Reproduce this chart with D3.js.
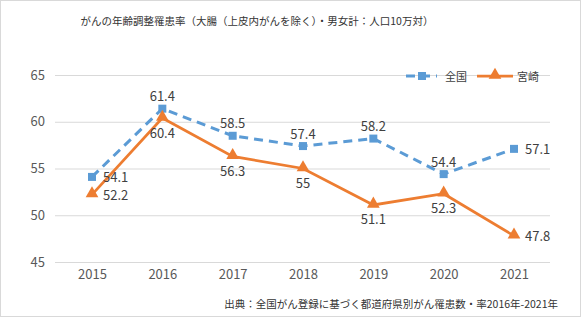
<!DOCTYPE html>
<html><head><meta charset="utf-8">
<script src="https://cdn.jsdelivr.net/npm/d3@7"></script>
<style>
html,body{margin:0;padding:0;background:#fff;}
text{font-family:"Noto Sans CJK JP","Noto Sans",sans-serif;}
</style></head>
<body><svg id="c" width="585" height="321"></svg>
<script>
const years = ["2015","2016","2017","2018","2019","2020","2021"];
const national = [54.1, 61.4, 58.5, 57.4, 58.2, 54.4, 57.1];
const miyazaki = [52.2, 60.4, 56.3, 55, 51.1, 52.3, 47.8];
const yTicks = [45, 50, 55, 60, 65];
// label placement per point: "r" right, "t" above, "b" below
const nationalPos = ["r","t","t","t","t","t","r"];
const miyazakiPos = ["r","b","b","b","b","b","r"];

const svg = d3.select("#c");
const blue = "#5B9BD5", orange = "#ED7D31";

svg.append("rect").attr("x",0.5).attr("y",0.5).attr("width",580).attr("height",316)
  .attr("fill","#fff").attr("stroke","#d9d9d9");

const x = d3.scalePoint().domain(years).range([92, 514]);
const y = d3.scaleLinear().domain([45, 65]).range([262, 75]);

// horizontal grid
svg.append("g").selectAll("line").data(yTicks).join("line")
  .attr("x1",55).attr("x2",550)
  .attr("y1",d=>y(d)+0.5).attr("y2",d=>y(d)+0.5)
  .attr("stroke","#d9d9d9").attr("stroke-width",1);

// y axis labels
const yAxis = d3.axisLeft(y).tickValues(yTicks).tickSize(0).tickPadding(0);
svg.append("g").attr("transform","translate(45,0)").call(yAxis)
  .call(g=>g.select(".domain").remove())
  .call(g=>g.selectAll("text").attr("fill","#595959").attr("font-size",13)
     .style("font-family","'Noto Sans CJK JP',sans-serif"));

// x axis labels
const xAxis = d3.axisBottom(x).tickSize(0).tickPadding(0);
svg.append("g").attr("transform","translate(0,270)").call(xAxis)
  .call(g=>g.select(".domain").remove())
  .call(g=>g.selectAll("text").attr("fill","#595959").attr("font-size",13)
     .style("font-family","'Noto Sans CJK JP',sans-serif"));

const line = d3.line().x((d,i)=>x(years[i])).y(d=>y(d));

svg.append("path").datum(national).attr("d",line).attr("fill","none")
  .attr("stroke",blue).attr("stroke-width",3).attr("stroke-dasharray","9,6");
svg.append("path").datum(miyazaki).attr("d",line).attr("fill","none")
  .attr("stroke",orange).attr("stroke-width",2.75);

const sq = d3.symbol().type(d3.symbolSquare).size(64);
const tri = d3.symbol().type(d3.symbolTriangle).size(70);

svg.append("g").selectAll("path").data(national).join("path")
  .attr("d",sq).attr("fill",blue)
  .attr("transform",(d,i)=>`translate(${x(years[i])},${y(d)})`);
svg.append("g").selectAll("path").data(miyazaki).join("path")
  .attr("d",tri).attr("fill",orange)
  .attr("transform",(d,i)=>`translate(${x(years[i])},${y(d)-1})`);

function labels(data, pos){
  svg.append("g").selectAll("text").data(data).join("text")
    .attr("x",(d,i)=>pos[i]==="r" ? x(years[i])+11 : x(years[i]))
    .attr("y",(d,i)=>y(d) + (pos[i]==="t" ? -13 : pos[i]==="b" ? 14 : 0))
    .attr("text-anchor",(d,i)=>pos[i]==="r" ? "start" : "middle")
    .attr("dominant-baseline","central")
    .attr("font-size",13).attr("fill","#404040")
    .text(d=>d);
}
labels(national, nationalPos);
labels(miyazaki, miyazakiPos);

// legend
const lg = svg.append("g");
lg.append("line").attr("x1",406).attr("x2",437).attr("y1",76).attr("y2",76)
  .attr("stroke",blue).attr("stroke-width",3).attr("stroke-dasharray","9,6");
lg.append("path").attr("d",sq).attr("fill",blue).attr("transform","translate(422,76)");
lg.append("text").attr("x",445).attr("y",76).attr("dominant-baseline","central")
  .attr("font-size",11).attr("fill","#404040").text("全国");
lg.append("line").attr("x1",477).attr("x2",513).attr("y1",76).attr("y2",76)
  .attr("stroke",orange).attr("stroke-width",2.75);
lg.append("path").attr("d",tri).attr("fill",orange).attr("transform","translate(495,75)");
lg.append("text").attr("x",517).attr("y",76).attr("dominant-baseline","central")
  .attr("font-size",11).attr("fill","#404040").text("宮崎");

// title and source
svg.append("text").attr("x",257).attr("y",20).attr("text-anchor","middle")
  .attr("dominant-baseline","central").attr("font-size",10.5).attr("fill","#333")
  .text("がんの年齢調整罹患率（大腸（上皮内がんを除く）・男女計：人口10万対）");
svg.append("text").attr("x",558).attr("y",303).attr("text-anchor","end")
  .attr("dominant-baseline","central").attr("font-size",10.5).attr("fill","#333")
  .text("出典：全国がん登録に基づく都道府県別がん罹患数・率2016年-2021年");
</script></body></html>
